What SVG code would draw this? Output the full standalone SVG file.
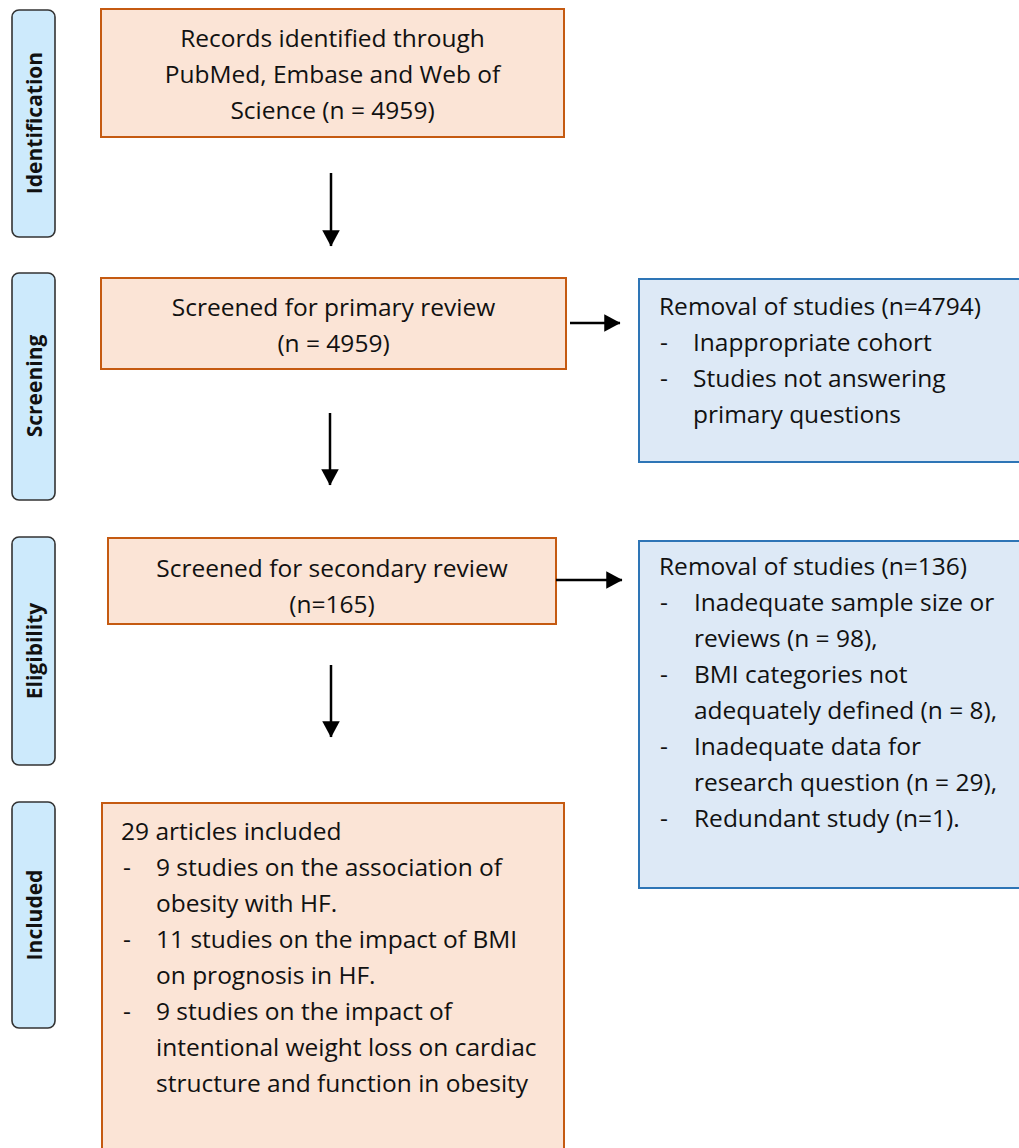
<svg xmlns="http://www.w3.org/2000/svg" width="1019" height="1148" viewBox="0 0 1019 1148">
<style>
.stage{fill:#cdeafc;stroke:#333;stroke-width:1.6}
.stxt{font-family:"Open Sans","Liberation Sans",sans-serif;font-weight:bold;font-size:21px;fill:#111;text-anchor:middle;dominant-baseline:central}
.obox{fill:#fbe4d6;stroke:#c55a11;stroke-width:2}
.bbox{fill:#dde9f6;stroke:#2e75b6;stroke-width:2}
.t{font-family:"Open Sans","Liberation Sans",sans-serif;font-size:24.5px;fill:#111}
.c{text-anchor:middle}
.conn{stroke:#000;stroke-width:2.5;fill:none}
</style>
<defs>
<marker id="ah" markerWidth="7" markerHeight="7" refX="6.3" refY="3.5" orient="auto" markerUnits="strokeWidth">
<path d="M0,0 L6.5,3.5 L0,7 Z" fill="#000"/>
</marker>
</defs>
<rect width="1019" height="1148" fill="#fff"/>
<g id="stage-identification"><rect class="stage" x="12" y="10" width="43" height="227" rx="7"/><text class="stxt" transform="translate(34,123) rotate(-90)">Identification</text></g>
<g id="stage-screening"><rect class="stage" x="12" y="273" width="43" height="227" rx="7"/><text class="stxt" transform="translate(34,386) rotate(-90)">Screening</text></g>
<g id="stage-eligibility"><rect class="stage" x="12" y="537" width="43" height="228" rx="7"/><text class="stxt" transform="translate(34,651) rotate(-90)">Eligibility</text></g>
<g id="stage-included"><rect class="stage" x="12" y="802" width="43" height="226" rx="7"/><text class="stxt" transform="translate(34,915) rotate(-90)">Included</text></g>
<g id="records">
<rect class="obox" x="101" y="9" width="463" height="128"/>
<text class="t c" x="332.5" y="47">Records identified through</text>
<text class="t c" x="332.5" y="83">PubMed, Embase and Web of</text>
<text class="t c" x="332.5" y="119">Science (n = 4959)</text>
</g>
<g id="primary">
<rect class="obox" x="101" y="278" width="465" height="91"/>
<text class="t c" x="333.5" y="316">Screened for primary review</text>
<text class="t c" x="333.5" y="352">(n = 4959)</text>
</g>
<g id="removal1">
<rect class="bbox" x="639" y="279" width="390" height="183"/>
<text class="t" x="659" y="315">Removal of studies (n=4794)</text>
<text class="t" x="660" y="351">-</text><text class="t" x="693" y="351">Inappropriate cohort</text>
<text class="t" x="660" y="387">-</text><text class="t" x="693" y="387">Studies not answering</text>
<text class="t" x="693" y="423">primary questions</text>
</g>
<g id="secondary">
<rect class="obox" x="108" y="538" width="448" height="86"/>
<text class="t c" x="332" y="577">Screened for secondary review</text>
<text class="t c" x="332" y="613">(n=165)</text>
</g>
<g id="removal2">
<rect class="bbox" x="639" y="541" width="390" height="347"/>
<text class="t" x="659" y="575">Removal of studies (n=136)</text>
<text class="t" x="660" y="611">-</text><text class="t" x="694" y="611">Inadequate sample size or</text>
<text class="t" x="694" y="647">reviews (n = 98),</text>
<text class="t" x="660" y="683">-</text><text class="t" x="694" y="683">BMI categories not</text>
<text class="t" x="694" y="719">adequately defined (n = 8),</text>
<text class="t" x="660" y="755">-</text><text class="t" x="694" y="755">Inadequate data for</text>
<text class="t" x="694" y="791">research question (n = 29),</text>
<text class="t" x="660" y="827">-</text><text class="t" x="694" y="827">Redundant study (n=1).</text>
</g>
<g id="included">
<rect class="obox" x="102" y="803" width="462" height="360"/>
<text class="t" x="121" y="840">29 articles included</text>
<text class="t" x="123" y="876">-</text><text class="t" x="156" y="876">9 studies on the association of</text>
<text class="t" x="156" y="912">obesity with HF.</text>
<text class="t" x="123" y="948">-</text><text class="t" x="156" y="948">11 studies on the impact of BMI</text>
<text class="t" x="156" y="984">on prognosis in HF.</text>
<text class="t" x="123" y="1020">-</text><text class="t" x="156" y="1020">9 studies on the impact of</text>
<text class="t" x="156" y="1056">intentional weight loss on cardiac</text>
<text class="t" x="156" y="1092">structure and function in obesity</text>
</g>
<g id="connectors">
<line class="conn" x1="331" y1="173" x2="331" y2="246" marker-end="url(#ah)"/>
<line class="conn" x1="330" y1="413" x2="330" y2="485" marker-end="url(#ah)"/>
<line class="conn" x1="331" y1="665" x2="331" y2="737" marker-end="url(#ah)"/>
<line class="conn" x1="570" y1="323" x2="620" y2="323" marker-end="url(#ah)"/>
<line class="conn" x1="556" y1="580" x2="622" y2="580" marker-end="url(#ah)"/>
</g>
</svg>
